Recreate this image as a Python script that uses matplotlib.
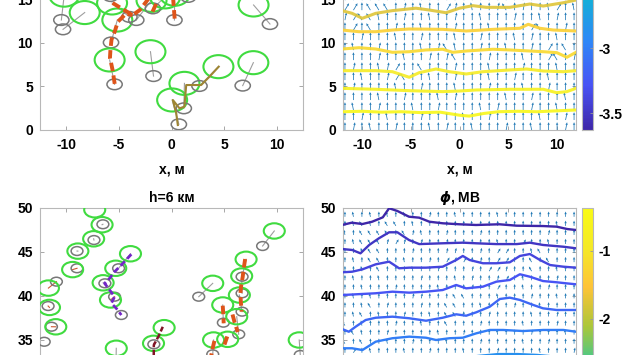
import numpy as np
import matplotlib
matplotlib.use("Agg")
import matplotlib.pyplot as plt
from matplotlib.patches import Ellipse
from matplotlib.colors import LinearSegmentedColormap, Normalize
from matplotlib.cm import ScalarMappable

plt.rcParams['font.family'] = ['Liberation Sans', 'DejaVu Sans']
plt.rcParams['font.weight'] = 'bold'
plt.rcParams['font.size'] = 10
plt.rcParams['axes.unicode_minus'] = False

nan = np.nan

# --------------------------------------------------------------------------- #
# top-left: previous (gray) and current (green) positions, h lower layer
# --------------------------------------------------------------------------- #
tl_prev_x = [-10.31, -10.47, -5.75, -5.41, -4.0, -3.35, -1.71, -1.77, 0.28, 0.7, 1.17, 2.66, 6.77, 9.36, 1.6, -5.8]
tl_prev_y = [11.57, 12.64, 10.06, 5.25, 13.0, 12.64, 6.2, 13.98, 12.64, 0.65, 2.49, 5.06, 5.1, 12.18, 15.3, 15.4]
tl_next_x = [-8.25, -10.2, -5.15, -5.88, -5.65, -1.9, -2.0, -0.6, 0.3, 0.06, 1.23, 4.46, 7.78, 7.8, nan, nan]
tl_next_y = [13.5, 15.5, 12.64, 8.05, 14.6, 14.9, 9.0, 15.3, 15.6, 3.45, 5.36, 7.28, 7.74, 14.37, nan, nan]

tl_orange_x = [[-5.4, -5.6, -5.85, -5.8, -5.7, -5.4, -5.1, -4.3, -3.7],
               [-5.6, -3.7, -3.0, -2.4, -2.0],
               [0.3, 0.25, 0.2, 0.15],
               [-1.8, -1.5, -1.3]]
tl_orange_y = [[5.3, 6.9, 8.3, 9.3, 10.4, 11.3, 12.45, 13.4, 13.2],
               [14.6, 13.2, 13.8, 14.75, 15.4],
               [12.8, 13.6, 14.4, 15.2],
               [13.6, 14.4, 15.1]]
tl_olive_x = [0.6, 0.45, 0.13, 0.76, 1.23, 1.33, 1.4, 2.02, 2.82, 3.61, 4.49]
tl_olive_y = [0.57, 1.92, 3.45, 2.49, 2.68, 4.22, 5.17, 5.17, 5.17, 6.13, 7.28]

# --------------------------------------------------------------------------- #
# bottom-left: h=6 km
# --------------------------------------------------------------------------- #
bl_prev_x = [-6.52, -7.37, -8.98, -8.98, -10.94, -11.73, -11.41, -12.1, -6.33, -5.03, -5.41, -4.77,
             -1.68, 2.59, 4.93, 6.71, 6.71, 6.71, 6.39, 8.66, 12.24, 3.92, -5.3,
             nan, nan, nan, nan]
bl_prev_y = [48.15, 46.36, 45.11, 43.15, 41.63, 38.86, 36.51, 34.8, 41.44, 43.15, 39.92, 37.84,
             34.51, 39.92, 36.97, 42.19, 40.31, 38.22, 35.65, 45.68, 33.3, 33.37, 31.0,
             nan, nan, nan, nan]
bl_next_x = [-6.6, -7.4, -8.9, -9.4, -11.7, -11.6, -11.0, nan, -6.5, -3.9, -5.8, nan,
             -1.71, 3.92, 4.87, 7.09, 6.67, 6.45, 6.2, 9.77, 12.14, 4.0, -5.25,
             -7.3, -5.3, -0.7, 5.34]
bl_next_y = [48.1, 46.5, 45.1, 43.0, 40.9, 38.7, 36.5, nan, 41.5, 44.8, 39.55, nan,
             34.62, 41.44, 38.98, 44.17, 42.27, 40.11, 37.65, 47.39, 35.0, 35.0, 34.06,
             49.8, 43.15, 36.4, 35.08]
bl_link_red = [3, 4, 5, 6, 10]

bl_violet_x = [-3.82, -4.77, -5.41, -5.88, -6.36, -5.88, -5.41, -5.72, -5.25, -4.77]
bl_violet_y = [44.74, 43.52, 42.76, 42.01, 41.44, 40.68, 39.92, 39.17, 38.6, 37.84]
bl_maroon_x = [-1.7, -1.68, -1.2, -0.83]
bl_maroon_y = [31.5, 34.43, 35.5, 36.5]
bl_orange_x = [[7.0, 6.85, 6.77, 6.6, 6.55, 6.6, 6.67],
               [5.8, 6.0, 6.3],
               [4.87, 4.93, 4.96],
               [4.08, 3.9, 3.77],
               [5.3, 5.1, 4.96]]
bl_orange_y = [[44.2, 43.0, 42.19, 41.0, 40.23, 39.2, 38.22],
               [37.9, 37.0, 35.9],
               [38.9, 37.8, 36.9],
               [34.9, 34.0, 33.2],
               [35.4, 34.7, 34.2]]

# --------------------------------------------------------------------------- #
# top-right: field direction codes (bottom row first) and isolines
# --------------------------------------------------------------------------- #
TILT = {'|': 0.0, 'r': 10.0, 'l': -10.0, 'R': 28.0, 'L': -28.0}

tr_tilt = [
    "|r|l||r |||l|r| |l|||r| |l|||r|",
    "||r||l| ||r|||| l||r||| ||l||r|",
    "|l||r|| |l||r|| ||l|r|| |r||l||",
    "||||l|| r|||l|r |||||l| |r|||l|",
    "|r||||l ||r|||l |||r||| l||r|||",
    "||l||rR L||l||r |||l||r |||l|||",
    "|r||lrR ||L|||r |||l||| r|||l||",
    "||||r|| l||r|rL |||r||| l||RL|r",
    "|l||r|| ||l|rLl ||r||l| |r|R|L|",
    "||r|||l ||r|||l ||r|||l |r||l||",
    "|R|L||r ||l|||r |||l||| |RL||r|",
    "rRLLl|| r||l||r ||l|||r ||l|r||",
    "RR|LLL| r|l||Rr |l||rL| r||lR|l",
    "R|RL|lL r|R|l|L Rr|lR|L |r|R|l|",
]

tr_iso_x = [
    [-12, -10, -8, -6, -4, -2, 0, 1, 2.5, 4, 6, 8, 10, 12],
    [-12.1, -8.63, -5.18, -1.73, 0, 1.73, 5.18, 8.63, 10.0, 11.06, 12.0],
    [-12.1, -8.63, -6.91, -5.18, -4.15, -2.42, -1.04, 0.69, 2.41, 5.18, 6.91, 8.63, 10.7, 12],
    [-12.1, -10.36, -8.63, -6.91, -5.18, -3.45, -1.73, -0.69, 0.69, 3.45, 5.18, 8.63, 10.02, 11.06, 12.0],
    [-12.1, -10.36, -8.63, -6.91, -5.18, -1.73, 0.69, 3.45, 6.22, 7.08, 8.29, 9.67, 12.0],
    [-12.1, -11.06, -10.02, -8.63, -6.91, -4.49, -3.11, -1.38, 0, 1.38, 2.76, 5.18, 7.25, 8.63, 10.7, 12],
]
tr_iso_y = [
    [2.1, 2.15, 2.05, 2.1, 2.0, 2.05, 1.7, 1.6, 1.9, 2.1, 2.15, 2.1, 2.2, 2.3],
    [4.79, 4.68, 4.52, 4.41, 4.48, 4.6, 4.68, 4.68, 4.29, 4.41, 4.79],
    [6.82, 6.82, 6.7, 6.06, 6.59, 7.01, 6.7, 6.44, 6.7, 6.9, 7.01, 6.78, 6.7, 6.82],
    [9.31, 9.46, 9.31, 8.93, 9.0, 9.2, 9.28, 8.93, 9.08, 9.28, 9.2, 9.0, 8.89, 8.36, 8.93],
    [11.49, 11.3, 11.3, 11.49, 11.61, 11.57, 11.38, 11.57, 11.69, 12.15, 11.69, 11.49, 11.38],
    [13.72, 13.41, 12.84, 13.41, 13.72, 14.0, 13.79, 13.48, 14.0, 14.29, 14.1, 14.1, 14.48, 14.25, 14.63, 14.94],
]
tr_iso_val = [-0.98, -1.09, -1.2, -1.39, -1.47, -1.72]

# --------------------------------------------------------------------------- #
# bottom-right: phi, MV (top row first)
# --------------------------------------------------------------------------- #
br_tilt = [
    "|l|l|l| l||r||l ||||l|| |||||||",
    "|lLl|LL |l||r|| |l||||| ||||l||",
    "l|LLLL| Lrl||r| ||r|||| |||r|||",
    "|lLLLrR r|r||r| ||||l|| R||l|||",
    "||lLL|| |r|||rr ||r|RR| |lL||||",
    "|l|LL|| l||r|Rr R|r|RR| |L|L|||",
    "||l|L|| |l||r|| |r|RRr| |L||l||",
    "|l||l|| ||r|||l |r||rR| l|||r||",
    "||l|||r ||||l|| |r||R|| l||r|||",
    "|l|l||| |rr|||L L|||l|| |r||l||",
    "||lL|r| ||r||LL ||l|||r ||l||||",
    "|lL|l|| r||l|LL |||r||| |l||r||",
    "L|l|||r ||l||L| ||r|||| l|||r||",
    "|Ll||r| ||||l|| r|||l|| |r|||l|",
    "L|L||l| |r|||l| ||r|||| l||r|||",
    "|R|l||| l||r||| l|||r|| ||l|||r",
    "||l||r| ||l|||| r||l||| |r||l||",
]

br_iso_x = [
    [-12.1, -11.1, -10.0, -9.0, -7.9, -7.25, -6.4, -5.2, -4.15, -3.1, -1.7, 0, 1.7, 4.1, 5.9, 8.6, 10.0, 11.1, 12.0],
    [-12.1, -11.06, -10.2, -9.3, -8.3, -7.25, -6.4, -5.2, -4.15, -1.76, 0.35, 1.73, 3.8, 5.9, 7.25, 8.6, 10.7, 12.0],
    [-12.1, -11.06, -10.0, -8.63, -7.25, -6.22, -5.18, -3.45, -1.73, -0.34, 0.34, 1.04, 2.41, 3.8, 5.18, 6.22, 7.25, 8.29, 9.33, 10.7, 12.0],
    [-12.1, -8.63, -6.91, -5.18, -3.45, -1.73, -0.34, 0.69, 2.41, 3.8, 5.18, 6.22, 7.25, 8.6, 10.0, 11.0, 12.0],
    [-12.1, -11.4, -10.7, -9.67, -8.63, -6.91, -5.18, -3.45, -1.73, -0.34, 0.69, 1.73, 3.11, 4.15, 5.18, 6.22, 7.6, 8.6, 10.0, 12.0],
    [-12.1, -11.06, -10.0, -8.63, -6.91, -5.18, -3.45, -2.42, -1.04, 0.34, 1.73, 3.11, 4.49, 6.56, 8.63, 10.7, 12.0],
    [-12.1, -9.0, -6.0, -3.0, 0.0, 2.0, 4.0, 6.0, 8.0, 10.0, 12.0],
]
br_iso_y = [
    [48.07, 48.33, 48.18, 48.44, 48.94, 49.97, 49.66, 49.01, 48.9, 48.44, 48.26, 48.15, 48.07, 48.15, 47.99, 47.95, 47.88, 47.61, 47.5],
    [45.34, 45.23, 44.85, 45.8, 46.56, 47.24, 47.24, 46.36, 45.9, 45.99, 46.06, 45.99, 45.9, 45.9, 46.06, 45.8, 45.6, 45.42],
    [42.69, 42.76, 43.03, 43.6, 43.9, 43.15, 43.22, 43.22, 43.33, 44.09, 44.55, 44.09, 43.72, 43.72, 43.83, 44.55, 44.77, 44.09, 43.52, 43.33, 43.22],
    [40.11, 40.31, 40.49, 40.38, 40.49, 40.68, 41.25, 40.87, 41.06, 41.63, 41.82, 42.47, 42.19, 41.7, 41.56, 41.44, 41.33],
    [36.25, 35.94, 36.51, 37.27, 37.53, 37.65, 37.47, 37.19, 37.53, 37.92, 37.76, 38.15, 38.78, 39.66, 39.81, 39.55, 38.98, 38.6, 38.41, 38.41],
    [34.06, 34.06, 33.86, 34.81, 35.2, 35.38, 35.26, 35.0, 35.2, 35.26, 35.76, 36.14, 36.14, 36.02, 36.14, 36.14, 35.94],
    [32.0, 32.3, 32.6, 32.7, 32.9, 33.2, 33.4, 33.4, 33.3, 33.1, 33.0],
]
br_iso_val = [-5.0, -4.8, -4.6, -4.4, -4.2, -3.95, -3.7]

# --------------------------------------------------------------------------- #
PARULA = LinearSegmentedColormap.from_list("parula", [
    (0.2422, 0.1504, 0.6603), (0.2810, 0.3228, 0.9579), (0.1786, 0.5289, 0.9682),
    (0.0689, 0.6948, 0.8394), (0.2161, 0.7843, 0.5923), (0.6720, 0.7793, 0.2227),
    (0.9970, 0.7659, 0.2199), (0.9598, 0.9136, 0.1482), (0.9769, 0.9839, 0.0805)])

W, H = 630, 355
GREEN = (0.25, 0.86, 0.25)
GRAY = (0.47, 0.47, 0.47)
ORANGE = (0.87, 0.33, 0.1)
QCOL = (0.12, 0.47, 0.71)


def _pos(l, r, top, bot):
    return [l / W, 1 - bot / H, (r - l) / W, (bot - top) / H]


def _style(ax, xlim, ylim, yticks, xlabels=True):
    ax.set_xlim(*xlim)
    ax.set_ylim(*ylim)
    ax.set_xticks([-10, -5, 0, 5, 10])
    ax.set_yticks(yticks)
    ax.tick_params(direction='in', length=3, width=0.6, color='0.6',
                   top=True, right=True, labelsize=10, labelbottom=xlabels)
    ax.tick_params(axis='x', pad=6)
    ax.tick_params(axis='y', pad=5)
    for sp in ax.spines.values():
        sp.set_color('0.72')
        sp.set_linewidth(0.8)


def _pairs(ax, px, py, nx, ny, gsize, csize, red_links=()):
    for i, (a, b, c, d) in enumerate(zip(px, py, nx, ny)):
        if not (np.isnan(a) or np.isnan(c)):
            col = (0.8, 0.35, 0.2) if i in red_links else (0.62, 0.62, 0.62)
            ax.plot([a, c], [b, d], color=col, lw=0.8, zorder=2)
        if not np.isnan(a):
            ax.add_patch(Ellipse((a, b), *gsize, fill=False, ec=GRAY, lw=1.1, zorder=3))
        if not np.isnan(c):
            ax.add_patch(Ellipse((c, d), *csize, fill=False, ec=GREEN, lw=1.5, zorder=3))


def _field(ax, rows, xs, ys, length):
    codes = ["".join(r.split()).ljust(len(xs), '|')[:len(xs)] for r in rows]
    th = np.radians([[TILT[ch] for ch in r] for r in codes])
    XX, YY = np.meshgrid(xs, ys)
    ax.quiver(XX, YY, length * np.sin(th), length * np.cos(th), angles='xy',
              scale_units='xy', scale=1, color=QCOL, width=0.0033,
              headwidth=3.2, headlength=3.6, headaxislength=3.2, zorder=2)


def _cbar(fig, rect, norm, ticks):
    cax = fig.add_axes(rect)
    cb = fig.colorbar(ScalarMappable(norm=norm, cmap=PARULA), cax=cax)
    cb.set_ticks(ticks)
    cb.ax.set_yticklabels([f"{t:g}" for t in ticks])
    cb.ax.tick_params(direction='in', length=2, width=0.6, color='0.6', labelsize=10, pad=4)
    cb.outline.set_edgecolor('0.72')
    cb.outline.set_linewidth(0.8)


fig = plt.figure(figsize=(W / 100, H / 100), dpi=100)

# top-left
ax = fig.add_axes(_pos(40, 303, -44, 130))
_style(ax, (-12.5, 12.5), (0, 20), [0, 5, 10, 15])
_pairs(ax, tl_prev_x, tl_prev_y, tl_next_x, tl_next_y, (1.45, 1.23), (2.85, 2.65))
for xs, ys in zip(tl_orange_x, tl_orange_y):
    ax.plot(xs, ys, color=ORANGE, lw=2.8, ls=(0, (2.2, 1.1)), zorder=4)
ax.plot(tl_olive_x, tl_olive_y, color=(0.62, 0.52, 0.2), lw=1.5, zorder=4)
ax.set_xlabel("x, м", fontsize=10, fontweight='bold', labelpad=7)

# top-right
ax = fig.add_axes(_pos(343, 576, -44, 130))
_style(ax, (-12, 12), (0, 20), [0, 5, 10, 15])
tr_norm = Normalize(-3.63, -0.9)
_field(ax, tr_tilt, np.linspace(-11.8, 11.8, 28), np.arange(len(tr_tilt)) * 1.148, 0.9)
for xs, ys, v in zip(tr_iso_x, tr_iso_y, tr_iso_val):
    ax.plot(xs, ys, color=PARULA(tr_norm(v)), lw=2.2, alpha=0.9, zorder=3)
ax.set_xlabel("x, м", fontsize=10, fontweight='bold', labelpad=7)
_cbar(fig, _pos(582, 593, 130 - 2.73 * 130, 130), tr_norm, [-3.5, -3])

# bottom-left
ax = fig.add_axes(_pos(40, 303, 208, 384))
_style(ax, (-12.5, 12.5), (30, 50), [35, 40, 45, 50], xlabels=False)
_pairs(ax, bl_prev_x, bl_prev_y, bl_next_x, bl_next_y, (1.12, 1.0), (2.0, 1.75), bl_link_red)
ax.plot(bl_violet_x, bl_violet_y, color=(0.45, 0.15, 0.78), lw=2.0, ls=(0, (2.2, 1.2)), zorder=4)
ax.plot(bl_maroon_x, bl_maroon_y, color=(0.5, 0.08, 0.15), lw=1.8, ls=(0, (2.5, 1)), zorder=4)
for xs, ys in zip(bl_orange_x, bl_orange_y):
    ax.plot(xs, ys, color=ORANGE, lw=2.8, ls=(0, (2.2, 1.1)), zorder=4)
ax.set_title("h=6 км", fontsize=10, fontweight='bold', pad=4)

# bottom-right
ax = fig.add_axes(_pos(343, 576, 208, 384))
_style(ax, (-12, 12), (30, 50), [35, 40, 45, 50], xlabels=False)
br_norm = Normalize(-5.0, -0.37)
_field(ax, br_tilt, np.linspace(-11.8, 11.8, 28), 49.0 - np.arange(len(br_tilt)) * 1.03, 0.6)
for xs, ys, v in zip(br_iso_x, br_iso_y, br_iso_val):
    ax.plot(xs, ys, color=PARULA(br_norm(v)), lw=1.7, zorder=3)
ax.set_title(r"$\phi$, МВ", fontsize=10, fontweight='bold', pad=4)
_cbar(fig, _pos(582, 593, 208, 208 + 4.63 * 68), br_norm, [-2, -1])

fig.savefig("out.png", dpi=100)
